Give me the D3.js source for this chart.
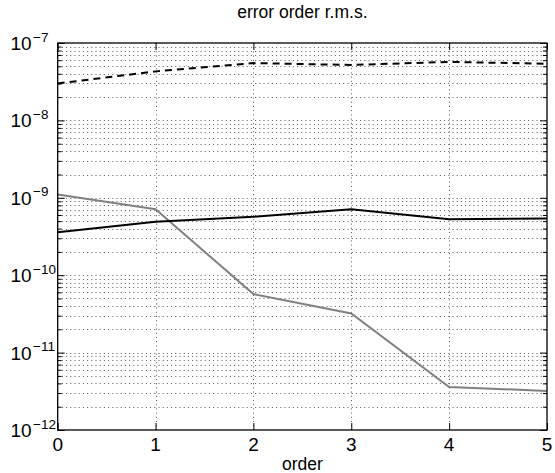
<!DOCTYPE html>
<html>
<head>
<meta charset="utf-8">
<script src="https://cdn.jsdelivr.net/npm/d3@7"></script>
<style>
  html, body { margin: 0; padding: 0; background: #fff; }
  svg { display: block; font-family: "Liberation Sans", Arial, Helvetica, sans-serif; }
</style>
</head>
<body>
<svg id="chart" width="555" height="473"></svg>
<script>
// ---- data ----
const orders = [0, 1, 2, 3, 4, 5];
const dashedSeries = [3.0e-8, 4.3e-8, 5.5e-8, 5.2e-8, 5.7e-8, 5.4e-8];
const solidSeries  = [3.6e-10, 4.9e-10, 5.7e-10, 7.1e-10, 5.3e-10, 5.4e-10];
const graySeries   = [1.1e-9, 7.1e-10, 5.7e-11, 3.2e-11, 3.6e-12, 3.2e-12];
const xTicks = [0, 1, 2, 3, 4, 5];
const yExponents = [-12, -11, -10, -9, -8, -7];
const titleText = "error order r.m.s.";
const xLabelText = "order";

// ---- layout ----
const L = 57.7, R = 547, T = 43, B = 430;
const svg = d3.select("#chart");

const x = d3.scaleLinear().domain([0, 5]).range([L, R]);
const y = d3.scaleLog().domain([1e-12, 1e-7]).range([B, T]);

// minor values
const minorVals = [];
yExponents.slice(0, -1).forEach(e => {
  for (let m = 2; m <= 9; m++) minorVals.push(m * Math.pow(10, e));
});
const majorVals = yExponents.map(e => Math.pow(10, e));

// grid
const grid = svg.append("g").attr("stroke", "#5a5a5a").attr("stroke-width", 1)
  .attr("stroke-dasharray", "1,3.2").attr("fill", "none");
minorVals.concat(majorVals.slice(1, -1)).forEach(v => {
  const yy = Math.round(y(v)) + 0.5;
  grid.append("line").attr("x1", L).attr("x2", R).attr("y1", yy).attr("y2", yy);
});
xTicks.slice(1, -1).forEach(v => {
  const xx = Math.round(x(v)) + 0.5;
  grid.append("line").attr("x1", xx).attr("x2", xx).attr("y1", T).attr("y2", B);
});

// lines
const lineGen = d3.line().x((d, i) => x(orders[i])).y(d => y(d));
svg.append("path").datum(graySeries).attr("d", lineGen)
  .attr("fill", "none").attr("stroke", "#808080").attr("stroke-width", 2);
svg.append("path").datum(solidSeries).attr("d", lineGen)
  .attr("fill", "none").attr("stroke", "#000").attr("stroke-width", 2);
svg.append("path").datum(dashedSeries).attr("d", lineGen)
  .attr("fill", "none").attr("stroke", "#000").attr("stroke-width", 2)
  .attr("stroke-dasharray", "7,5");

// axes (ticks inside)
const yAxisL = d3.axisRight(y).tickValues(majorVals).tickSize(7).tickFormat("");
const yAxisLm = d3.axisRight(y).tickValues(minorVals).tickSize(4).tickFormat("");
const yAxisR = d3.axisLeft(y).tickValues(majorVals).tickSize(7).tickFormat("");
const yAxisRm = d3.axisLeft(y).tickValues(minorVals).tickSize(4).tickFormat("");
const xAxisB = d3.axisTop(x).tickValues(xTicks).tickSize(7).tickFormat("");
const xAxisT = d3.axisBottom(x).tickValues(xTicks).tickSize(7).tickFormat("");

function styleAxis(g) {
  g.select(".domain").remove();
  g.selectAll(".tick line").attr("stroke", "#000").attr("stroke-width", 1);
}
svg.append("g").attr("transform", `translate(${L},0)`).call(yAxisL).call(styleAxis);
svg.append("g").attr("transform", `translate(${L},0)`).call(yAxisLm).call(styleAxis);
svg.append("g").attr("transform", `translate(${R},0)`).call(yAxisR).call(styleAxis);
svg.append("g").attr("transform", `translate(${R},0)`).call(yAxisRm).call(styleAxis);
svg.append("g").attr("transform", `translate(0,${B})`).call(xAxisB).call(styleAxis);
svg.append("g").attr("transform", `translate(0,${T})`).call(xAxisT).call(styleAxis);

// box
svg.append("rect").attr("x", L).attr("y", T).attr("width", R - L).attr("height", B - T)
  .attr("fill", "none").attr("stroke", "#000").attr("stroke-width", 1.3);

// y tick labels: 10^e
yExponents.forEach(e => {
  const yy = y(Math.pow(10, e));
  svg.append("text").attr("x", 31.7).attr("y", yy + 7)
    .attr("text-anchor", "end").attr("font-size", 19).attr("fill", "#000").text("10");
  svg.append("text").attr("x", 33).attr("y", yy - 1.5)
    .attr("font-size", 13.5).attr("fill", "#000").text("\u2212" + Math.abs(e));
});

// x tick labels
xTicks.forEach(v => {
  svg.append("text").attr("x", x(v)).attr("y", 451)
    .attr("text-anchor", "middle").attr("font-size", 19).attr("fill", "#000").text(v);
});

// labels
svg.append("text").attr("x", (L + R) / 2).attr("y", 470)
  .attr("text-anchor", "middle").attr("font-size", 17.5).attr("fill", "#000").text(xLabelText);
svg.append("text").attr("x", (L + R) / 2).attr("y", 18)
  .attr("text-anchor", "middle").attr("font-size", 17.5).attr("fill", "#000").text(titleText);
</script>
</body>
</html>
